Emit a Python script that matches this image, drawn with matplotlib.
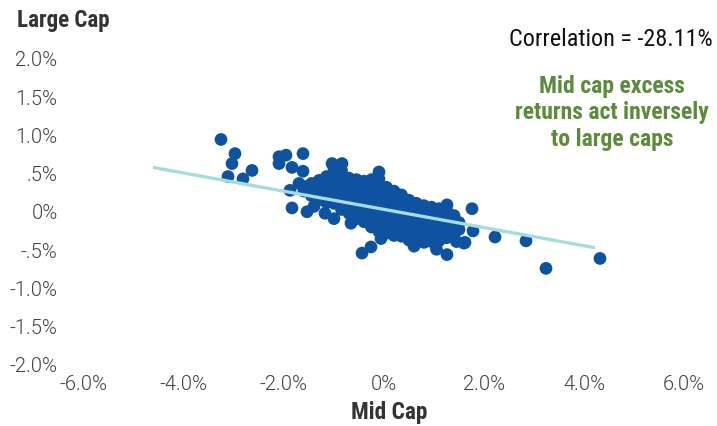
import numpy as np
import matplotlib
matplotlib.use("Agg")
import matplotlib.pyplot as plt
from matplotlib.ticker import FixedLocator, FixedFormatter

# Daily excess returns (%)
# loose points around the main cloud
outlier_x = [-3.26, -2.98, -3.04, -3.12, -2.82, -2.64, -2.10, -1.96, -2.10, -1.84,
             -1.62, -1.62, -1.88, -1.84, -1.54, -1.18, -1.00, -0.66, -1.04, -0.84,
             -0.10, -0.44, -0.26, -0.06, 1.26, 1.76, 1.78, 1.60, 2.22, 1.26,
             1.62, 2.84, 3.24, 4.32, -1.70, -1.40, 1.45, 1.05, 0.60]
outlier_y = [0.935, 0.75, 0.62, 0.45, 0.42, 0.53, 0.71, 0.73, 0.62, 0.57,
             0.75, 0.52, 0.27, 0.04, -0.01, -0.03, -0.10, -0.16, 0.62, 0.62,
             0.51, -0.55, -0.47, -0.36, -0.57, 0.03, -0.26, -0.42, -0.34, 0.08,
             -0.41, -0.39, -0.75, -0.62, 0.36, 0.06, -0.40, -0.50, -0.46]

# dense core, listed column by column (mid cap value, then large cap values)
core_x = [-1.60, -1.45, -1.30, -1.15, -1.00, -0.85, -0.70, -0.55, -0.40, -0.25,
          -0.10, 0.05, 0.20, 0.35, 0.50, 0.65, 0.80, 0.95, 1.10, 1.25, 1.40, 1.50]
core_y = [
    [0.32, 0.26],
    [0.36, 0.28, 0.20],
    [0.40, 0.32, 0.24, 0.15],
    [0.45, 0.36, 0.27, 0.18, 0.11],
    [0.55, 0.46, 0.37, 0.28, 0.19, 0.10],
    [0.53, 0.44, 0.35, 0.26, 0.17, 0.09, 0.02],
    [0.43, 0.34, 0.25, 0.16, 0.07, -0.03],
    [0.41, 0.32, 0.23, 0.14, 0.05, -0.04, -0.10],
    [0.39, 0.30, 0.21, 0.12, 0.03, -0.06, -0.14],
    [0.41, 0.32, 0.23, 0.14, 0.05, -0.04, -0.13, -0.21],
    [0.42, 0.33, 0.24, 0.15, 0.06, -0.03, -0.12, -0.20, -0.27],
    [0.31, 0.22, 0.13, 0.04, -0.05, -0.14, -0.22, -0.29],
    [0.26, 0.17, 0.08, -0.01, -0.10, -0.19, -0.26, -0.32],
    [0.21, 0.12, 0.03, -0.06, -0.15, -0.24, -0.33],
    [0.14, 0.05, -0.04, -0.13, -0.22, -0.31, -0.38],
    [0.10, 0.01, -0.08, -0.17, -0.26, -0.34, -0.40],
    [0.07, -0.02, -0.11, -0.20, -0.29, -0.36, -0.41],
    [0.05, -0.04, -0.13, -0.22, -0.31, -0.40],
    [0.03, -0.06, -0.15, -0.24, -0.32, -0.39],
    [0.01, -0.08, -0.17, -0.26, -0.35],
    [-0.06, -0.15, -0.24, -0.31],
    [-0.15, -0.24],
]

# regression line end points
trend_x = [-4.62, 4.22]
trend_y = [0.57, -0.48]

x_ticks = [-6, -4, -2, 0, 2, 4, 6]
x_labels = ["-6.0%", "-4.0%", "-2.0%", "0%", "2.0%", "4.0%", "6.0%"]
y_ticks = [2, 1.5, 1, 0.5, 0, -0.5, -1, -1.5, -2]
y_labels = ["2.0%", "1.5%", "1.0%", ".5%", "0%", "-.5%", "-1.0%", "-1.5%", "-2.0%"]

mid_cap = list(outlier_x)
large_cap = list(outlier_y)
for cx, ys in zip(core_x, core_y):
    for yy in ys:
        mid_cap.append(cx)
        large_cap.append(yy)

cond = ["Roboto Condensed", "DejaVu Sans"]
plain = ["Roboto", "DejaVu Sans"]

fig = plt.figure(figsize=(7.17, 4.27), dpi=100)
ax = fig.add_axes([84/717, 1 - 365/427, 600/717, 306/427])

ax.scatter(mid_cap, large_cap, s=84, color="#0f52a0", edgecolors="none", zorder=2)
ax.plot(trend_x, trend_y, color="#a6dcda", lw=2.4, solid_capstyle="butt", zorder=3)

ax.set_xlim(-6, 6)
ax.set_ylim(-2, 2)
ax.xaxis.set_major_locator(FixedLocator(x_ticks))
ax.xaxis.set_major_formatter(FixedFormatter(x_labels))
ax.yaxis.set_major_locator(FixedLocator(y_ticks))
ax.yaxis.set_major_formatter(FixedFormatter(y_labels))
ax.tick_params(length=0, labelsize=14.5, labelcolor="#404040")
ax.tick_params(axis="y", pad=19)
ax.tick_params(axis="x", pad=7)
for lab in ax.get_xticklabels() + ax.get_yticklabels():
    lab.set_family(plain)
    lab.set_fontweight(300)
for sp in ax.spines.values():
    sp.set_visible(False)

fig.text(17/717, 1 - 20/427, "Large Cap", fontsize=16.6, fontweight="bold",
         color="#333333", family=cond, ha="left", va="center")
fig.text(389/717, 1 - 413/427, "Mid Cap", fontsize=16.8, fontweight="bold",
         color="#333333", family=cond, ha="center", va="center")
fig.text(713/717, 1 - 40/427, "Correlation = -28.11%", fontsize=17.4,
         color="#111111", family=cond, ha="right", va="center")
fig.text(612/717, 1 - 113/427, "Mid cap excess\nreturns act inversely\nto large caps",
         fontsize=17, fontweight="bold", color="#5b8c3a", family=cond,
         ha="center", va="center", linespacing=1.2)

fig.savefig("out.png", dpi=100)
